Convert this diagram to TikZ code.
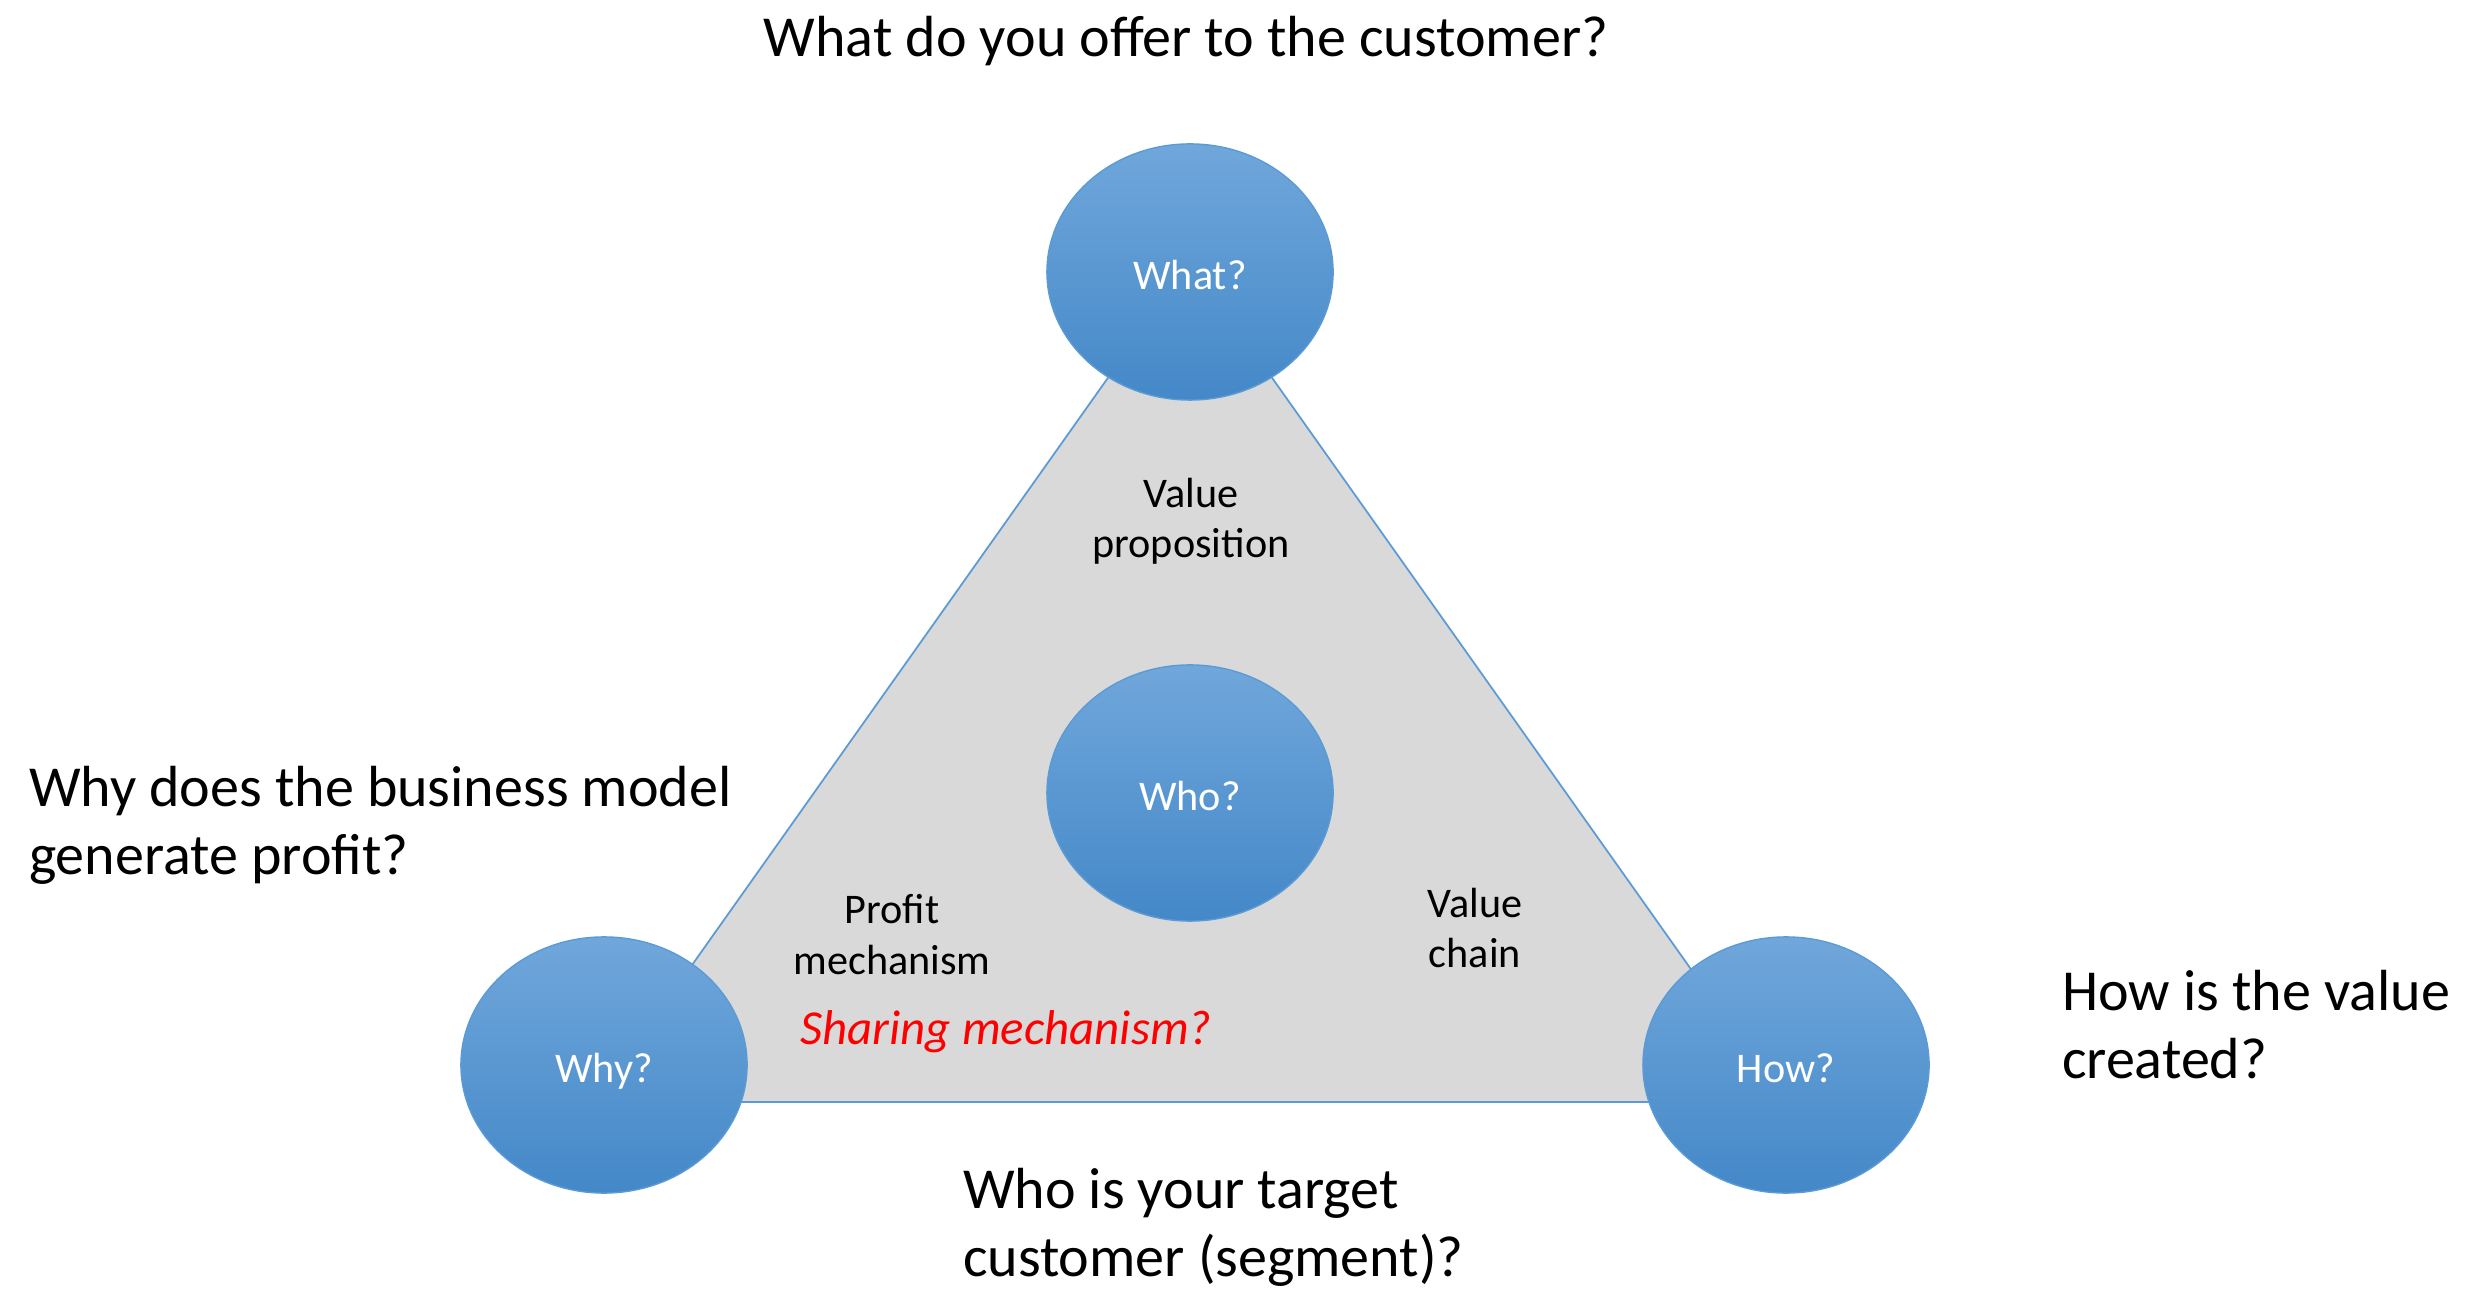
\documentclass[tikz,border=0pt]{standalone}
\usepackage{fontspec}
\setmainfont{Carlito}
\usetikzlibrary{shapes.geometric}

\definecolor{ballTop}{RGB}{112,167,219}
\definecolor{ballBottom}{RGB}{68,136,200}
\definecolor{ballLine}{RGB}{91,155,213}
\definecolor{triFill}{RGB}{217,217,217}

\begin{document}
\begin{tikzpicture}[x=0.01cm,y=-0.01cm]
\tikzstyle{every node}+=[inner sep=0pt, outer sep=0pt]
\tikzstyle{ball}=[ellipse, minimum width=2.86cm, minimum height=2.56cm,
  top color=ballTop, bottom color=ballBottom, draw=ballLine, line width=0.4pt,
  text=white, text height=0.98em, text depth=0pt, font=\fontsize{12}{14}\selectfont]
\tikzstyle{question}=[align=left, font=\fontsize{16.5}{19.3}\selectfont]
\tikzstyle{side}=[align=center, font=\fontsize{12}{14.3}\selectfont]
\useasboundingbox (0,0) rectangle (2470,1289);

% grey triangle behind the balls
\coordinate (top) at (1190,262);
\coordinate (left) at (595,1102);
\coordinate (right) at (1785,1102);
\filldraw[fill=triFill, draw=ballLine, line width=0.5pt] (top) -- (left) -- (right) -- cycle;

\node[ball] (what) at (1190,272) {What?};
\node[ball] (who) at (1190,793) {Who?};
\node[ball] (why) at (604,1065) {Why?};
\node[ball] (how) at (1786,1065) {How?};

% base anchor sits on the last line
\node[side, anchor=base] (valprop) at (1191,558) {Value\\proposition};
\node[side, anchor=base] (profit) at (892,974) {Profit\\mechanism};
\node[side, anchor=base] (chain) at (1475,968) {Value\\chain};
\node[anchor=base, text=red, font=\fontsize{13.9}{16}\selectfont\itshape] (sharing) at (1006,1044) {Sharing mechanism?};

\node[question, anchor=base] (qwhat) at (1186,57) {What do you offer to the customer?};
\node[question, anchor=base west] (qwhy) at (29,874) {Why does the business model\\generate profit?};
\node[question, anchor=base west] (qhow) at (2062,1078) {How is the value\\created?};
\node[question, anchor=base west] (qwho) at (963,1276) {Who is your target\\customer (segment)?};
\end{tikzpicture}
\end{document}
